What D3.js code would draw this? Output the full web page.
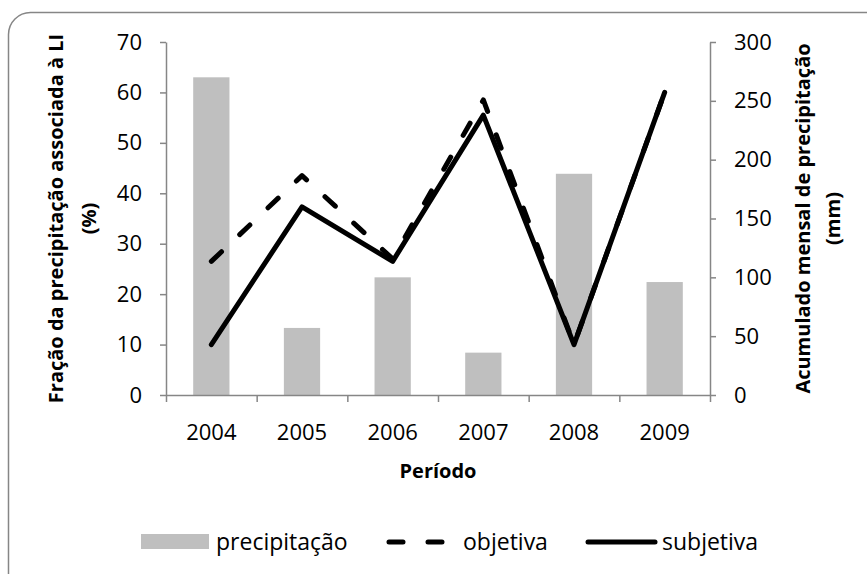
<!DOCTYPE html>
<html>
<head>
<meta charset="utf-8">
<script src="https://cdn.jsdelivr.net/npm/d3@7"></script>
<style>
  body { margin: 0; background: #fff; }
  svg { display: block; font-family: "Open Sans", sans-serif; }
</style>
</head>
<body>
<svg class="chart"></svg>
<script>
// dados
const anos = ['2004', '2005', '2006', '2007', '2008', '2009'];
const precipitacao = [270, 57, 100, 36, 188, 96];      // mm (eixo direito)
const objetiva = [26.5, 43.5, 27, 58.5, 10, 60];       // % (eixo esquerdo)
const subjetiva = [10, 37.3, 26.5, 55.5, 10, 60];      // % (eixo esquerdo)
const ticksEsq = [0, 10, 20, 30, 40, 50, 60, 70];
const ticksDir = [0, 50, 100, 150, 200, 250, 300];

const W = 867, H = 574;
const margin = { top: 42, right: 157, bottom: 179, left: 166 },
  width = W - margin.left - margin.right,
  height = H - margin.top - margin.bottom;

const axisColor = '#868686';
const barColor = '#bfbfbf';

const svg = d3.select('.chart')
  .attr('width', W)
  .attr('height', H);

// moldura
svg.append('rect')
  .attr('x', 8.5).attr('y', 12.5)
  .attr('width', 880).attr('height', 600)
  .attr('rx', 22)
  .attr('fill', '#fff')
  .attr('stroke', axisColor)
  .attr('stroke-width', 1.5);

const chart = svg.append('g')
  .attr('transform', 'translate(' + margin.left + ',' + margin.top + ')');

// escalas
const x = d3.scaleBand()
  .domain(anos)
  .range([0, width])
  .paddingInner(0.6)
  .paddingOuter(0.3);

const xEdge = d3.scaleLinear()
  .domain([0, anos.length])
  .range([0, width]);

const yL = d3.scaleLinear().domain([0, 70]).range([height, 0]);
const yR = d3.scaleLinear().domain([0, 300]).range([height, 0]);

// barras
chart.append('g').selectAll('rect')
  .data(precipitacao)
  .join('rect')
  .attr('x', (d, i) => x(anos[i]))
  .attr('y', d => yR(d))
  .attr('width', x.bandwidth())
  .attr('height', d => height - yR(d))
  .attr('fill', barColor);

// eixos
function styleAxis(g) {
  g.attr('font-family', '"Open Sans", sans-serif').attr('font-size', 22);
  g.select('.domain').attr('stroke', axisColor).attr('stroke-width', 1.5);
  g.selectAll('.tick line').attr('stroke', axisColor).attr('stroke-width', 1.5);
  g.selectAll('.tick text').attr('fill', '#000');
}

chart.append('g')
  .call(d3.axisLeft(yL).tickValues(ticksEsq).tickSize(6).tickSizeOuter(0).tickPadding(18))
  .call(styleAxis);

chart.append('g')
  .attr('transform', 'translate(' + width + ',0)')
  .call(d3.axisRight(yR).tickValues(ticksDir).tickSize(6).tickSizeOuter(0).tickPadding(18))
  .call(styleAxis);

chart.append('g')
  .attr('transform', 'translate(0,' + height + ')')
  .call(d3.axisBottom(xEdge).ticks(anos.length).tickFormat('').tickSize(7).tickSizeOuter(0))
  .call(styleAxis);

chart.append('g')
  .attr('transform', 'translate(0,' + height + ')')
  .call(d3.axisBottom(x).tickSize(0).tickPadding(29))
  .call(g => g.select('.domain').remove())
  .call(styleAxis);

// linhas
const cx = i => x(anos[i]) + x.bandwidth() / 2;

const lineObj = d3.line()
  .x((d, i) => cx(i))
  .y(d => yL(d));

chart.append('path')
  .datum(objetiva)
  .attr('d', lineObj)
  .attr('fill', 'none')
  .attr('stroke', '#000')
  .attr('stroke-width', 5)
  .attr('stroke-linecap', 'round')
  .attr('stroke-linejoin', 'round')
  .attr('stroke-dasharray', '14,25');

chart.append('path')
  .datum(subjetiva)
  .attr('d', lineObj)
  .attr('fill', 'none')
  .attr('stroke', '#000')
  .attr('stroke-width', 5)
  .attr('stroke-linecap', 'round')
  .attr('stroke-linejoin', 'round');

// títulos dos eixos
chart.append('text')
  .attr('x', width / 2)
  .attr('y', 436)
  .attr('text-anchor', 'middle')
  .style('font-size', '20px')
  .style('font-weight', 'bold')
  .text('Período');

const titleL = svg.append('text')
  .attr('transform', 'translate(63,' + (margin.top + height / 2) + ') rotate(-90)')
  .attr('text-anchor', 'middle')
  .style('font-size', '20px')
  .style('font-weight', 'bold');
titleL.append('tspan').attr('x', 0).attr('y', 0).text('Fração da precipitação associada à LI');
titleL.append('tspan').attr('x', 0).attr('y', 33).text('(%)');

const titleR = svg.append('text')
  .attr('transform', 'translate(810,' + (margin.top + height / 2) + ') rotate(-90)')
  .attr('text-anchor', 'middle')
  .style('font-size', '20px')
  .style('font-weight', 'bold');
titleR.append('tspan').attr('x', 0).attr('y', 0).text('Acumulado mensal de precipitação');
titleR.append('tspan').attr('x', 0).attr('y', 30).text('(mm)');

// legenda
const leg = svg.append('g').style('font-size', '23px');

leg.append('rect')
  .attr('x', 141).attr('y', 534)
  .attr('width', 68).attr('height', 15)
  .attr('fill', barColor);
leg.append('text').attr('x', 216).attr('y', 550).text('precipitação');

leg.append('line')
  .attr('x1', 389).attr('x2', 445).attr('y1', 542).attr('y2', 542)
  .attr('stroke', '#000').attr('stroke-width', 5)
  .attr('stroke-linecap', 'round')
  .attr('stroke-dasharray', '14,25');
leg.append('text').attr('x', 463).attr('y', 550).text('objetiva');

leg.append('line')
  .attr('x1', 588).attr('x2', 655).attr('y1', 542).attr('y2', 542)
  .attr('stroke', '#000').attr('stroke-width', 5)
  .attr('stroke-linecap', 'round');
leg.append('text').attr('x', 662).attr('y', 550).text('subjetiva');
</script>
</body>
</html>
